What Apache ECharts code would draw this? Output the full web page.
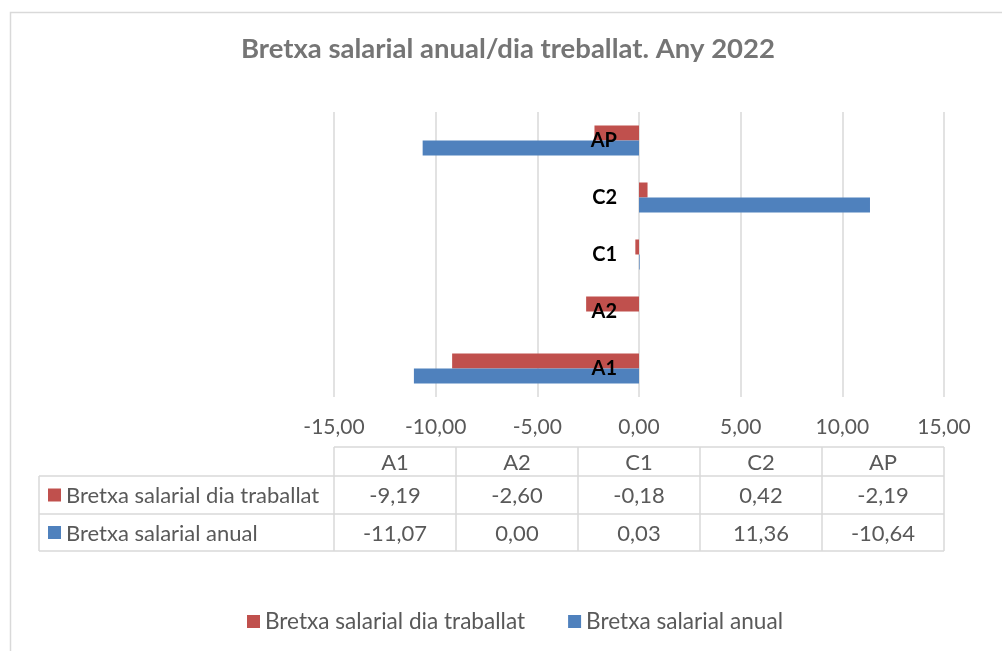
<!DOCTYPE html>
<html>
<head>
<meta charset="utf-8">
<style>html,body{margin:0;padding:0;background:#fff}#c{width:1002px;height:651px}</style>
<script src="https://cdn.jsdelivr.net/npm/echarts@6/dist/echarts.min.js"></script>
</head>
<body>
<div id="c"></div>
<script>
const categories = ['A1', 'A2', 'C1', 'C2', 'AP'];
const seriesNames = ['Bretxa salarial dia traballat', 'Bretxa salarial anual'];
const diaTreballat = [-9.19, -2.60, -0.18, 0.42, -2.19];
const anual = [-11.07, 0.00, 0.03, 11.36, -10.64];
const xTicks = [-15, -10, -5, 0, 5, 10, 15];
const colors = ['#C0504D', '#4F81BD'];

const FONT = 'Lato, "Open Sans", sans-serif';
const FS = 22;
const GRID = { left: 334, right: 944, top: 112, bottom: 397 };
const TABLE = { left: 39, top: 447, rows: [476, 514, 551] };
const fmt = v => v.toFixed(2).replace('.', ',');

const chart = echarts.init(document.getElementById('c'));

function buildTable() {
  const g = [];
  const line = '#d9d9d9';
  const colW = (GRID.right - GRID.left) / categories.length;
  const ls = { stroke: line, lineWidth: 1.5 };
  g.push({ type: 'line', shape: { x1: GRID.left, y1: TABLE.top, x2: GRID.right, y2: TABLE.top }, style: ls });
  TABLE.rows.forEach(y => g.push({ type: 'line', shape: { x1: TABLE.left, y1: y, x2: GRID.right, y2: y }, style: ls }));
  g.push({ type: 'line', shape: { x1: TABLE.left, y1: TABLE.rows[0], x2: TABLE.left, y2: TABLE.rows[2] }, style: ls });
  for (let i = 0; i <= categories.length; i++) {
    const x = GRID.left + i * colW;
    g.push({ type: 'line', shape: { x1: x, y1: TABLE.top, x2: x, y2: TABLE.rows[2] }, style: ls });
  }
  const txt = (x, y, t, align) => ({ type: 'text', x: x, y: y, style: { text: t, fill: '#595959', font: FS + 'px ' + FONT, textAlign: align || 'center', textVerticalAlign: 'middle' } });
  const rowsY = [(TABLE.top + TABLE.rows[0]) / 2, (TABLE.rows[0] + TABLE.rows[1]) / 2, (TABLE.rows[1] + TABLE.rows[2]) / 2];
  categories.forEach((c, i) => g.push(txt(GRID.left + (i + 0.5) * colW, rowsY[0] + 1, c)));
  [diaTreballat, anual].forEach((arr, r) => {
    g.push({ type: 'rect', shape: { x: 48, y: rowsY[r + 1] - 6.5, width: 13, height: 13 }, style: { fill: colors[r] } });
    g.push(txt(66, rowsY[r + 1] + 1, seriesNames[r], 'left'));
    arr.forEach((v, i) => g.push(txt(GRID.left + (i + 0.5) * colW, rowsY[r + 1] + 1, fmt(v))));
  });
  g.push({ type: 'rect', shape: { x: 10.5, y: 12.5, width: 1010, height: 660 }, style: { fill: 'none', stroke: '#d9d9d9', lineWidth: 1.5 } });
  return g;
}

chart.setOption({
  animation: false,
  textStyle: { fontFamily: FONT },
  title: {
    text: 'Bretxa salarial anual/dia treballat. Any 2022',
    left: 241, top: 35, padding: 0,
    textStyle: { fontFamily: FONT, fontSize: 27.5, fontWeight: 'bold', color: '#757575' }
  },
  legend: {
    top: 605, left: 242,
    icon: 'rect', itemWidth: 13, itemHeight: 13, itemGap: 43,
    textStyle: { fontSize: 22.6, color: '#595959', fontFamily: FONT },
    data: seriesNames
  },
  grid: { left: GRID.left, right: 1002 - GRID.right, top: GRID.top, bottom: 651 - GRID.bottom, containLabel: false },
  xAxis: {
    type: 'value', min: xTicks[0], max: xTicks[xTicks.length - 1], interval: 5,
    axisLine: { show: false }, axisTick: { show: false },
    splitLine: { lineStyle: { color: '#d9d9d9', width: 1.5 } },
    axisLabel: { formatter: v => fmt(v), fontSize: 21, color: '#595959', margin: 20 }
  },
  yAxis: {
    type: 'category', data: categories, z: 10,
    offset: -(GRID.right - GRID.left) / 2,
    axisLine: { show: false, onZero: false }, axisTick: { show: false },
    axisLabel: { fontWeight: 'bold', color: '#000', fontSize: 20, margin: 22 }
  },
  series: [
    { name: seriesNames[0], type: 'bar', data: diaTreballat, itemStyle: { color: colors[0] }, barWidth: 15, barGap: '0%', z: 1 },
    { name: seriesNames[1], type: 'bar', data: anual, itemStyle: { color: colors[1] }, barWidth: 15, barGap: '0%', z: 1 }
  ],
  graphic: buildTable()
});
</script>
</body>
</html>
